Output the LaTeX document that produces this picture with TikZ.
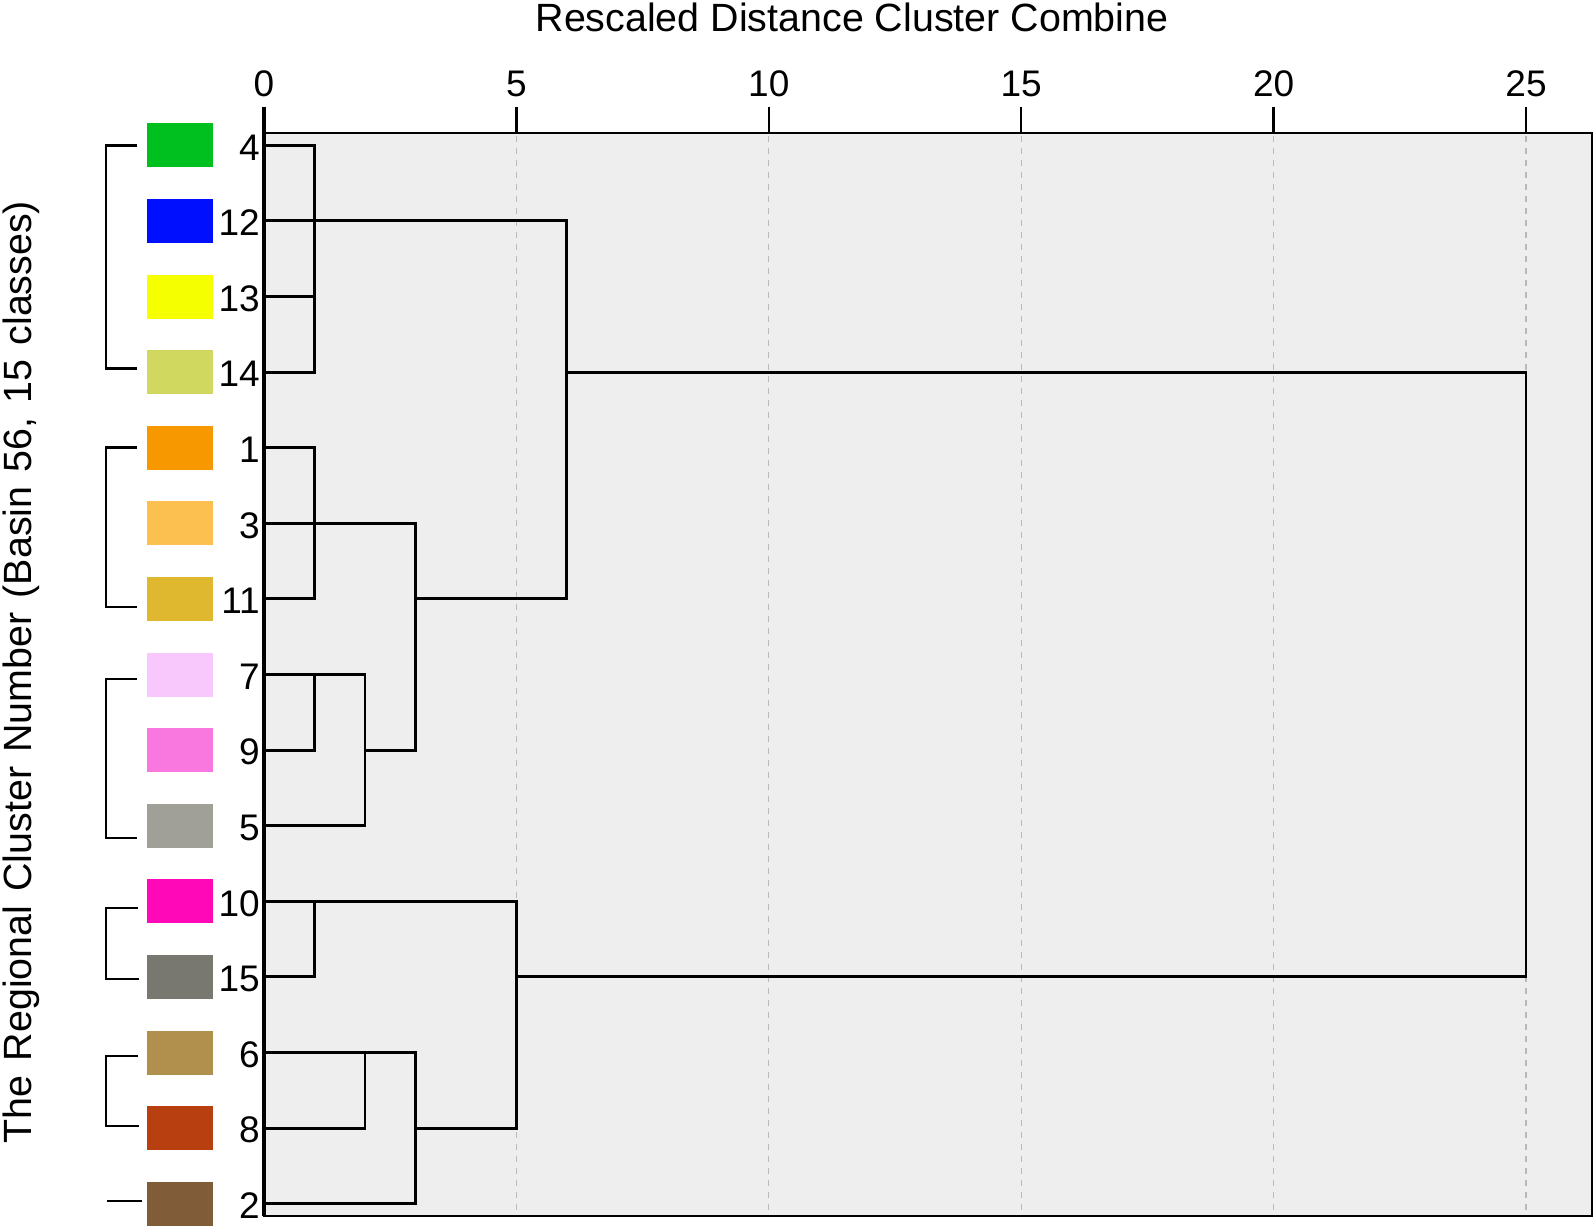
\documentclass[tikz,border=0pt]{standalone}
\usepackage{fontspec}
\setmainfont{Liberation Sans}
\definecolor{plotbg}{RGB}{238,238,238}
\definecolor{gridc}{RGB}{185,185,185}
\definecolor{c4}{RGB}{0,192,32}
\definecolor{c12}{RGB}{0,16,255}
\definecolor{c13}{RGB}{245,255,0}
\definecolor{c14}{RGB}{208,216,96}
\definecolor{c1}{RGB}{248,152,0}
\definecolor{c3}{RGB}{252,192,80}
\definecolor{c11}{RGB}{224,184,48}
\definecolor{c7}{RGB}{248,200,252}
\definecolor{c9}{RGB}{248,120,224}
\definecolor{c5}{RGB}{160,160,152}
\definecolor{c10}{RGB}{255,8,184}
\definecolor{c15}{RGB}{120,120,112}
\definecolor{c6}{RGB}{176,144,76}
\definecolor{c8}{RGB}{184,64,16}
\definecolor{c2}{RGB}{128,92,56}
\begin{document}
\begin{tikzpicture}[x=1pt,y=-1pt,
  dend/.style={line width=2.9pt, line cap=rect},
  gridline/.style={line width=1.3pt, draw=gridc, dash pattern=on 6pt off 6pt},
  swatch/.style={draw=none, minimum width=66pt, minimum height=44pt, inner sep=0pt},
  lab/.style={font=\fontsize{37}{44}\selectfont, inner sep=0pt},
  bigtext/.style={font=\fontsize{39.4}{47}\selectfont, inner sep=0pt},
  bracket/.style={line width=2.6pt}]
\useasboundingbox (0,0) rectangle (1594,1225);
% plot area
\fill[plotbg] (264,133) rectangle (1592,1216);
\foreach \d in {5,10,15,20,25}
  \draw[gridline] ({264+50.48*\d},136) -- ({264+50.48*\d},1214);
\foreach \d in {0,5,10,15,20,25} {
  \node[lab] (t\d) at ({264+50.48*\d},84) {\d};
  \draw[line width=2.4pt] ({264+50.48*\d},107) -- ({264+50.48*\d},133);
}
\draw[line width=2.4pt] (264,133) rectangle (1592,1216);
\draw[line width=3.2pt] (264,107) -- (264,1216);
% titles
\node[bigtext] (title) at (852,17) {Rescaled Distance Cluster Combine};
\node[bigtext, rotate=90] (ylab) at (21,672) {\spaceskip=0.36em plus 0.1em\relax The Regional Cluster Number (Basin 56, 15 classes)};
% leaves: swatches and labels
\foreach \i/\lab in {0/4,1/12,2/13,3/14,4/1,5/3,6/11,7/7,8/9,9/5,10/10,11/15,12/6,13/8,14/2} {
  \pgfmathsetmacro\yy{145.3+75.6*\i}
  \node[swatch, fill=c\lab] (b\lab) at (179.5,\yy) {};
  \node[lab, anchor=east] (n\lab) at (260,\yy+2) {\lab};
}
% brackets
\draw[bracket] (137,145.5) -- (106,145.5) -- (106,368.5) -- (137,368.5);
\draw[bracket] (137,447.7) -- (106,447.7) -- (106,607) -- (137,607);
\draw[bracket] (137,679) -- (106,679) -- (106,838) -- (137,838);
\draw[bracket] (138,908) -- (106,908) -- (106,979) -- (139,979);
\draw[bracket] (138,1056) -- (106,1056) -- (106,1126) -- (139,1126);
\draw[bracket] (107,1201) -- (142,1201);
% dendrogram
\begin{scope}[xshift=264pt, yshift=-145.3pt, x=50.48pt, y=-75.6pt]
  \foreach \i/\a/\b in {0/0/1, 1/0/6, 2/0/1, 3/0/1, 3/6/25, 4/0/1, 5/0/3, 6/0/1, 6/3/6,
      7/0/2, 8/0/1, 8/2/3, 9/0/2, 10/0/5, 11/0/1, 11/5/25, 12/0/3, 13/0/2, 13/3/5, 14/0/3}
    \draw[dend] (\a,\i) -- (\b,\i);
  \foreach \xx/\p/\q in {1/0/3, 1/4/6, 1/7/8, 2/7/9, 3/5/8, 6/1/6, 1/10/11, 2/12/13, 3/12/14, 5/10/13, 25/3/11}
    \draw[dend] (\xx,\p) -- (\xx,\q);
\end{scope}
\end{tikzpicture}
\end{document}
